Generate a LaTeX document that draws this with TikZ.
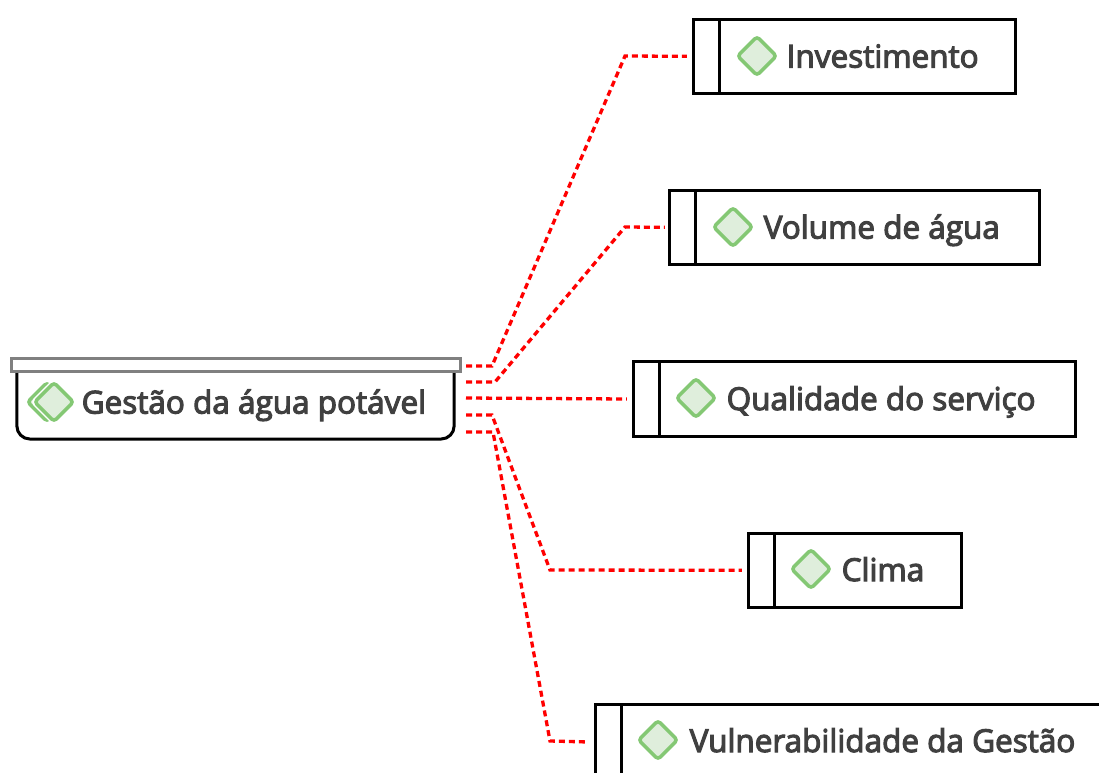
\documentclass[tikz,border=0pt]{standalone}
\usepackage{fontspec}
\setmainfont{Open Sans}[FakeBold=3.5]
\usetikzlibrary{shapes.geometric}
\definecolor{labelgray}{HTML}{404040}
\definecolor{gatefill}{HTML}{DFEEDC}
\definecolor{gateline}{HTML}{84C874}
\tikzset{
  taskbox/.style={draw=black,line width=.03cm,fill=white,outer sep=0pt,inner sep=0pt,minimum height=.74cm},
  tasklabel/.style={anchor=base west,inner sep=0pt,text=labelgray,font=\fontsize{8.95}{11}\selectfont},
  gate/.style={diamond,draw=gateline,fill=gatefill,line width=.035cm,inner sep=0pt,minimum width=.40cm,minimum height=.40cm,rounded corners=.03cm},
  link/.style={draw=red,line width=.033cm,dash pattern=on .06cm off .04cm}
}
\begin{document}
\begin{tikzpicture}[x=.01cm,y=-.01cm]
\useasboundingbox (0,0) rectangle (1099,772);
\clip (0,0) rectangle (1099,772);
% links
\coordinate (o1) at (466,366);
\coordinate (o2) at (466,382);
\coordinate (o3) at (466,398);
\coordinate (o4) at (466,415);
\coordinate (o5) at (466,432);
\coordinate (v1) at (625,56);
\coordinate (v2) at (625,227);
\coordinate (v4) at (550,570);
\coordinate (v5) at (550,741);
% tasks
\node[taskbox,minimum width=3.21cm] (inv) at (854.5,56.3) {};
\node[taskbox,minimum width=3.69cm] (vol) at (854.5,227.3) {};
\node[taskbox,minimum width=4.41cm] (qua) at (854.5,399) {};
\node[taskbox,minimum width=2.12cm] (cli) at (855,570.3) {};
\node[taskbox,minimum width=5.10cm] (vul) at (851,742) {};
\draw[line width=.03cm] ([xshift=.26cm]inv.north west) -- ([xshift=.26cm]inv.south west);
\draw[line width=.03cm] ([xshift=.26cm]vol.north west) -- ([xshift=.26cm]vol.south west);
\draw[line width=.03cm] ([xshift=.26cm]qua.north west) -- ([xshift=.26cm]qua.south west);
\draw[line width=.03cm] ([xshift=.26cm]cli.north west) -- ([xshift=.26cm]cli.south west);
\draw[line width=.03cm] ([xshift=.26cm]vul.north west) -- ([xshift=.26cm]vul.south west);
\node[gate] (g1) at (757,56) {};
\node[gate] (g2) at (733,227) {};
\node[gate] (g3) at (696,398) {};
\node[gate] (g4) at (811,569) {};
\node[gate] (g5) at (658,740) {};
\node[tasklabel] (t1) at (786,67.5) {Investimento};
\node[tasklabel] (t2) at (763,238.5) {Volume de água};
\node[tasklabel] (t3) at (726,410) {Qualidade do serviço};
\node[tasklabel] (t4) at (841,581) {Clima};
\node[tasklabel] (t5) at (689,752) {Vulnerabilidade da Gestão};
% main process
\node[taskbox,minimum width=4.37cm,minimum height=.79cm,rounded corners=.13cm] (main) at (235.5,399.5) {};
\node[draw=gray,line width=.03cm,fill=white,outer sep=0pt,inner sep=0pt,minimum width=4.48cm,minimum height=.13cm] (bar) at (236,365) {};
\node[gate] (g0b) at (47,402) {};
\node[gate,draw=white,minimum width=.44cm,minimum height=.44cm,fill=white] (g0w) at (54,402) {};
\node[gate] (g0) at (54,402) {};
\node[tasklabel] (t0) at (81,413.5) {Gestão da água potável};
% connectors
\draw[link] (o1) -- ++(26,0) -- (v1) -- ([xshift=-.07cm]inv.west);
\draw[link] (o2) -- ++(29,0) -- (v2) -- ([xshift=-.05cm]vol.west);
\draw[link] (o3) -- ([xshift=-.07cm]qua.west);
\draw[link] (o4) -- ++(26,0) -- (v4) -- ([xshift=-.07cm]cli.west);
\draw[link] (o5) -- ++(27,0) -- (v5) -- ([xshift=-.07cm]vul.west);
\end{tikzpicture}
\end{document}
